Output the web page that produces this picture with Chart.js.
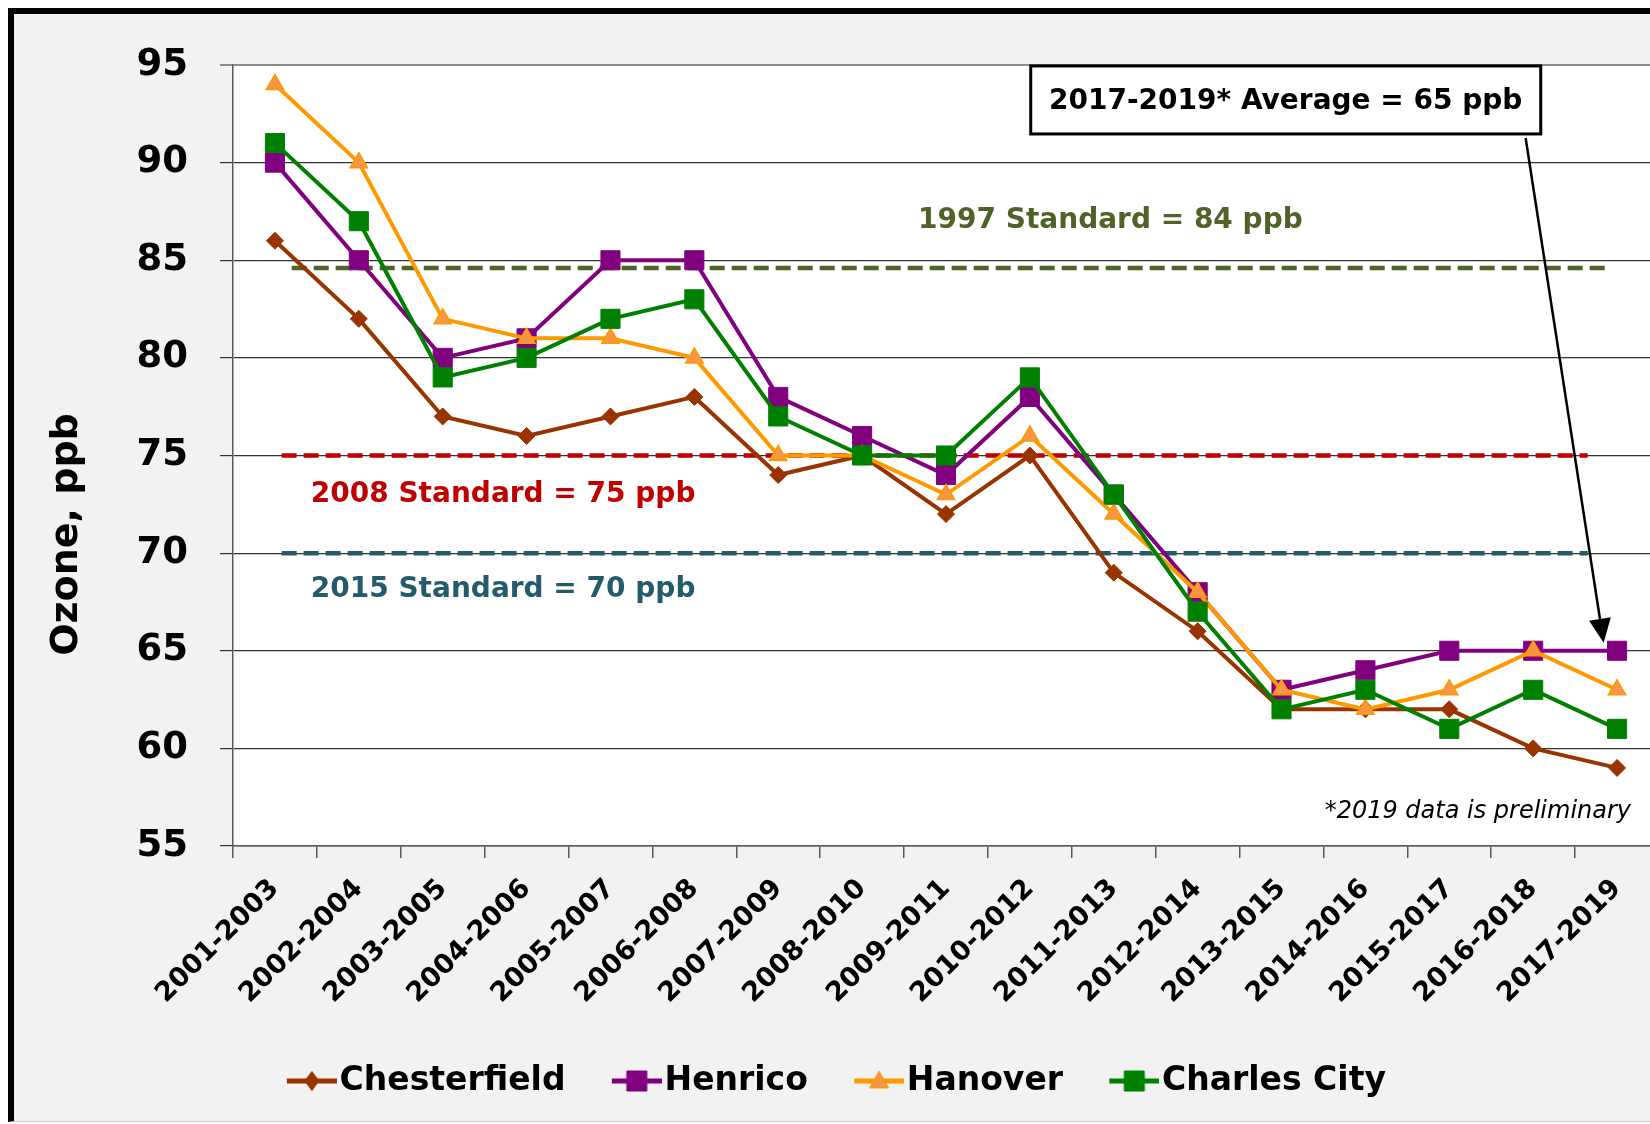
<!DOCTYPE html>
<html lang="en">
<head>
<meta charset="UTF-8">
<title>Ozone design values</title>
<script src="https://cdn.jsdelivr.net/npm/chart.js"></script>
<style>
  html, body { margin: 0; padding: 0; background: #fff; overflow: hidden; }
  .frame { position: absolute; left: 8px; top: 8px; width: 1700px; height: 1107px;
           background: #f2f2f2; border-left: 6px solid #000; border-top: 6px solid #000;
           border-bottom: 1px solid #d0d0d0; }
  #ozoneChart { position: absolute; left: -30px; top: 0; }
</style>
</head>
<body>
<div class="frame"></div>
<canvas id="ozoneChart" width="1710" height="1124"></canvas>
<script>
// --- data ---
const periods = ['2001-2003', '2002-2004', '2003-2005', '2004-2006', '2005-2007', '2006-2008',
                 '2007-2009', '2008-2010', '2009-2011', '2010-2012', '2011-2013', '2012-2014',
                 '2013-2015', '2014-2016', '2015-2017', '2016-2018', '2017-2019'];
const chesterfield = [86, 82, 77, 76, 77, 78, 74, 75, 72, 75, 69, 66, 62, 62, 62, 60, 59];
const henrico      = [90, 85, 80, 81, 85, 85, 78, 76, 74, 78, 73, 68, 63, 64, 65, 65, 65];
const hanover      = [94, 90, 82, 81, 81, 80, 75, 75, 73, 76, 72, 68, 63, 62, 63, 65, 63];
const charlesCity  = [91, 87, 79, 80, 82, 83, 77, 75, 75, 79, 73, 67, 62, 63, 61, 63, 61];

const yMin = 55, yMax = 95, yStep = 5;

// standard lines (level where the dashed line is drawn) and their labels
const standardLevels = [84.6, 75, 70];
const standardLabels = ['1997 Standard = 84 ppb', '2008 Standard = 75 ppb', '2015 Standard = 70 ppb'];
const averageNote = '2017-2019* Average = 65 ppb';
const footNote = '*2019 data is preliminary';

const FONT = "'DejaVu Sans', sans-serif";
Chart.defaults.font.family = FONT;
Chart.defaults.color = '#000';

// legend icon: short line with the marker in the middle
function legendIcon(color, fill, shape) {
  const c = document.createElement('canvas');
  c.width = 100; c.height = 30;
  const g = c.getContext('2d');
  g.strokeStyle = color; g.lineWidth = 5;
  g.beginPath(); g.moveTo(50, 15); g.lineTo(100, 15); g.stroke();
  g.fillStyle = fill; g.strokeStyle = color; g.lineWidth = 1;
  g.beginPath();
  if (shape === 'diamond') {
    g.moveTo(75, 5.5); g.lineTo(82, 15); g.lineTo(75, 24.5); g.lineTo(68, 15);
  } else if (shape === 'square') {
    g.rect(65, 5, 20, 20);
  } else {
    g.moveTo(75, 5); g.lineTo(84.5, 22); g.lineTo(65.5, 22);
  }
  g.closePath(); g.fill(); g.stroke();
  return c;
}

// dashed standard lines, their labels, the average box, arrow and footnote
const notesPlugin = {
  id: 'notes',
  beforeDraw(chart) {
    const {ctx, chartArea: a} = chart;
    ctx.save();
    ctx.fillStyle = '#fff';
    ctx.fillRect(a.left, a.top, a.right - a.left, a.bottom - a.top);
    ctx.restore();
  },
  beforeDatasetsDraw(chart, args, opts) {
    const {ctx, scales: {x, y}} = chart;
    ctx.save();
    opts.lines.forEach((l, i) => {
      ctx.strokeStyle = l.color;
      ctx.lineWidth = 4.5;
      ctx.setLineDash([15, 7]);
      ctx.beginPath();
      ctx.moveTo(x.getPixelForValue(l.from), y.getPixelForValue(standardLevels[i]));
      ctx.lineTo(x.getPixelForValue(l.to), y.getPixelForValue(standardLevels[i]));
      ctx.stroke();
      ctx.setLineDash([]);
      ctx.fillStyle = l.color;
      ctx.font = 'bold 28px ' + FONT;
      ctx.textAlign = 'center';
      ctx.textBaseline = 'middle';
      ctx.fillText(standardLabels[i], x.getPixelForValue(l.tx), y.getPixelForValue(l.ty));
    });
    ctx.restore();
  },
  afterDatasetsDraw(chart, args, opts) {
    const {ctx, scales: {x, y}} = chart;
    ctx.save();
    // average box
    const b = opts.box;
    const bx = x.getPixelForValue(b.x), by = y.getPixelForValue(b.y);
    ctx.fillStyle = '#fff';
    ctx.fillRect(bx - 255, by - 34, 510, 68);
    ctx.strokeStyle = '#000'; ctx.lineWidth = 3;
    ctx.strokeRect(bx - 255, by - 34, 510, 68);
    ctx.fillStyle = '#000';
    ctx.font = 'bold 28px ' + FONT;
    ctx.textAlign = 'center'; ctx.textBaseline = 'middle';
    ctx.fillText(averageNote, bx, by + 2);
    // arrow
    const ar = opts.arrow;
    const x0 = x.getPixelForValue(ar.x0), y0 = y.getPixelForValue(ar.y0);
    const x1 = x.getPixelForValue(ar.x1), y1 = y.getPixelForValue(ar.y1);
    const ang = Math.atan2(y1 - y0, x1 - x0);
    const hl = 24, hw = 11;
    const bxh = x1 - hl * Math.cos(ang), byh = y1 - hl * Math.sin(ang);
    ctx.lineWidth = 2.5;
    ctx.beginPath(); ctx.moveTo(x0, y0); ctx.lineTo(bxh, byh); ctx.stroke();
    ctx.beginPath();
    ctx.moveTo(x1, y1);
    ctx.lineTo(bxh + hw * Math.sin(ang), byh - hw * Math.cos(ang));
    ctx.lineTo(bxh - hw * Math.sin(ang), byh + hw * Math.cos(ang));
    ctx.closePath(); ctx.fill();
    // footnote
    ctx.font = 'italic 24px ' + FONT;
    ctx.textAlign = 'right';
    ctx.fillText(footNote, x.getPixelForValue(opts.foot.x), y.getPixelForValue(opts.foot.y));
    ctx.restore();
  },
  afterDraw(chart, args, opts) {
    const {ctx} = chart;
    ctx.save();
    ctx.translate(opts.title.x, opts.title.y);
    ctx.rotate(-Math.PI / 2);
    ctx.font = 'bold 38px ' + FONT;
    ctx.fillStyle = '#000';
    ctx.textAlign = 'center'; ctx.textBaseline = 'middle';
    ctx.fillText('Ozone, ppb', 0, 0);
    ctx.restore();
  }
};

const ctx = document.getElementById('ozoneChart').getContext('2d');
new Chart(ctx, {
  type: 'line',
  data: {
    labels: periods,
    datasets: [
      { label: 'Chesterfield', data: chesterfield, borderColor: '#993300', backgroundColor: '#993300',
        pointStyle: 'rectRot', pointRadius: 8.5, pointBorderWidth: 1, borderWidth: 4, order: 4,
        icon: legendIcon('#993300', '#993300', 'diamond') },
      { label: 'Henrico', data: henrico, borderColor: '#800080', backgroundColor: '#800080',
        pointStyle: 'rect', pointRadius: 13.5, pointBorderWidth: 1, borderWidth: 4, order: 3,
        icon: legendIcon('#800080', '#800080', 'square') },
      { label: 'Hanover', data: hanover, borderColor: '#FF9900', backgroundColor: '#F79646',
        pointBackgroundColor: '#F79646', pointBorderColor: '#FF9900',
        pointStyle: 'triangle', pointRadius: 10, pointBorderWidth: 1.5, borderWidth: 4, order: 2,
        icon: legendIcon('#FF9900', '#F79646', 'triangle') },
      { label: 'Charles City', data: charlesCity, borderColor: '#008000', backgroundColor: '#008000',
        pointStyle: 'rect', pointRadius: 13.5, pointBorderWidth: 1, borderWidth: 4, order: 1,
        icon: legendIcon('#008000', '#008000', 'square') }
    ]
  },
  options: {
    responsive: false,
    animation: false,
    devicePixelRatio: 1,
    layout: { padding: { top: 65, left: 7.5, right: 21, bottom: 16.5 } },
    scales: {
      x: {
        offset: true,
        grid: { offset: true, drawOnChartArea: false, drawTicks: true, tickLength: 12, color: '#595959', lineWidth: 1.5 },
        border: { display: true, color: '#595959', width: 1.5 },
        ticks: { autoSkip: false, minRotation: 45, maxRotation: 45, padding: 15,
                 font: { size: 27, weight: 'bold' }, color: '#000' },
        afterFit: s => { s.height = 208.5; }
      },
      y: {
        min: yMin, max: yMax,
        ticks: { stepSize: yStep, padding: 32, font: { size: 37, weight: 'bold' }, color: '#000' },
        grid: {
          color: c => c.tick && c.tick.value === yMax ? '#8c8c8c' : '#333',
          lineWidth: c => c.tick && c.tick.value === yMax ? 2 : 1.2,
          tickLength: 13
        },
        border: { display: true, color: '#595959', width: 1.5 },
        afterFit: s => { s.width = 255.5; }
      }
    },
    plugins: {
      tooltip: { enabled: false },
      legend: {
        position: 'bottom',
        labels: {
          usePointStyle: true,
          pointStyleWidth: 72.5,
          padding: 10,
          font: { size: 33, weight: 'bold' },
          color: '#000',
          generateLabels: chart => chart.data.datasets.map((ds, i) => ({
            text: ds.label, datasetIndex: i, pointStyle: ds.icon, rotation: 0,
            fillStyle: ds.borderColor, strokeStyle: ds.borderColor, lineWidth: 0,
            hidden: false, fontColor: '#000'
          }))
        }
      },
      notes: {
        lines: [
          { color: '#4F6228', from: 0.2, to: 15.86, tx: 9.96, ty: 87.03 },
          { color: '#C00000', from: 0.08, to: 15.65, tx: 2.72, ty: 72.98 },
          { color: '#245B6B', from: 0.08, to: 15.65, tx: 2.72, ty: 68.11 }
        ],
        box: { x: 12.05, y: 93.21 },
        arrow: { x0: 14.91, y0: 91.26, x1: 15.84, y1: 65.41 },
        foot: { x: 16.167, y: 56.74 },
        title: { x: 97.5, y: 534.5 }
      }
    }
  },
  plugins: [notesPlugin]
});
</script>
</body>
</html>
